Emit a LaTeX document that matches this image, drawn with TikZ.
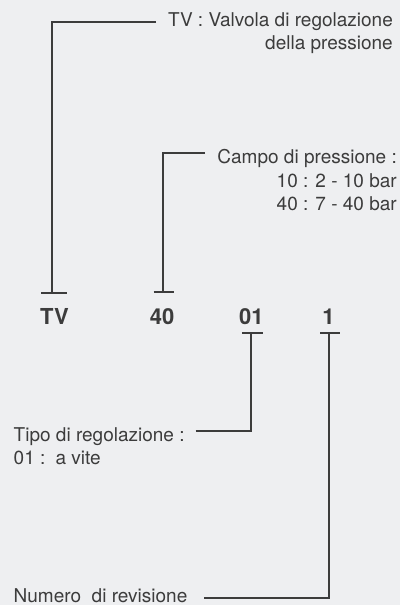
\documentclass[tikz,border=0pt]{standalone}
\usepackage{fontspec}
\setmainfont{TeX Gyre Heros}
\definecolor{bgc}{HTML}{EEEFF1}
\definecolor{ink}{HTML}{3C3C3C}
\begin{document}
\begin{tikzpicture}[x=1pt,y=-1pt,
  leader/.style={draw=ink,line width=1.9pt,line cap=butt,line join=miter},
  desc/.style={inner sep=0pt,text=ink,font=\fontsize{19}{23.5}\selectfont},
  code/.style={inner sep=0pt,text=ink,anchor=base,font=\fontsize{22}{24}\selectfont\bfseries}]
% canvas
\fill[bgc] (0,0) rectangle (400,605);
\useasboundingbox (0,0) rectangle (400,605);

% code fields
\node[code] (cTV) at (54.5,324) {TV};
\node[code] (c40) at (162,324) {40};
\node[code] (c01) at (251.3,324) {01};
\node[code] (c1)  at (328.5,324) {1};

% descriptions
\node[desc,align=right,anchor=north east] (dTV) at (393,12)
  {TV : Valvola di regolazione\\della pressione};
\node[desc,align=right,anchor=north east] (d40) at (397,149.5)
  {Campo di pressione :\\10 : 2 - 10 bar\\40 : 7 - 40 bar};
\node[desc,align=left,anchor=north west] (d01) at (13.5,427)
  {Tipo di regolazione :\\01 :\, a vite};
\node[desc,anchor=north west] (d1) at (13.5,588) {Numero\ \ di revisione};

% leader end points and tee bars
\coordinate (eTV) at (156,22);   \coordinate (tTV) at (52.3,293);
\coordinate (e40) at (205,153.3); \coordinate (t40) at (162.7,291.7);
\coordinate (e01) at (195.7,430.7); \coordinate (t01) at (251.3,332.8);
\coordinate (e1)  at (204,597.7);  \coordinate (t1)  at (329,332.8);

\draw[leader] (eTV) -| (tTV);
\draw[leader] (e40) -| (t40);
\draw[leader] (e01) -| (t01);
\draw[leader] (e1)  -| (t1);

\draw[leader] ([xshift=-11]tTV) -- ([xshift=14.5]tTV);
\draw[leader] ([xshift=-9.2]t40) -- ([xshift=11.6]t40);
\draw[leader] ([xshift=-9.5]t01) -- ([xshift=12]t01);
\draw[leader] ([xshift=-9]t1) -- ([xshift=11]t1);
\end{tikzpicture}
\end{document}
